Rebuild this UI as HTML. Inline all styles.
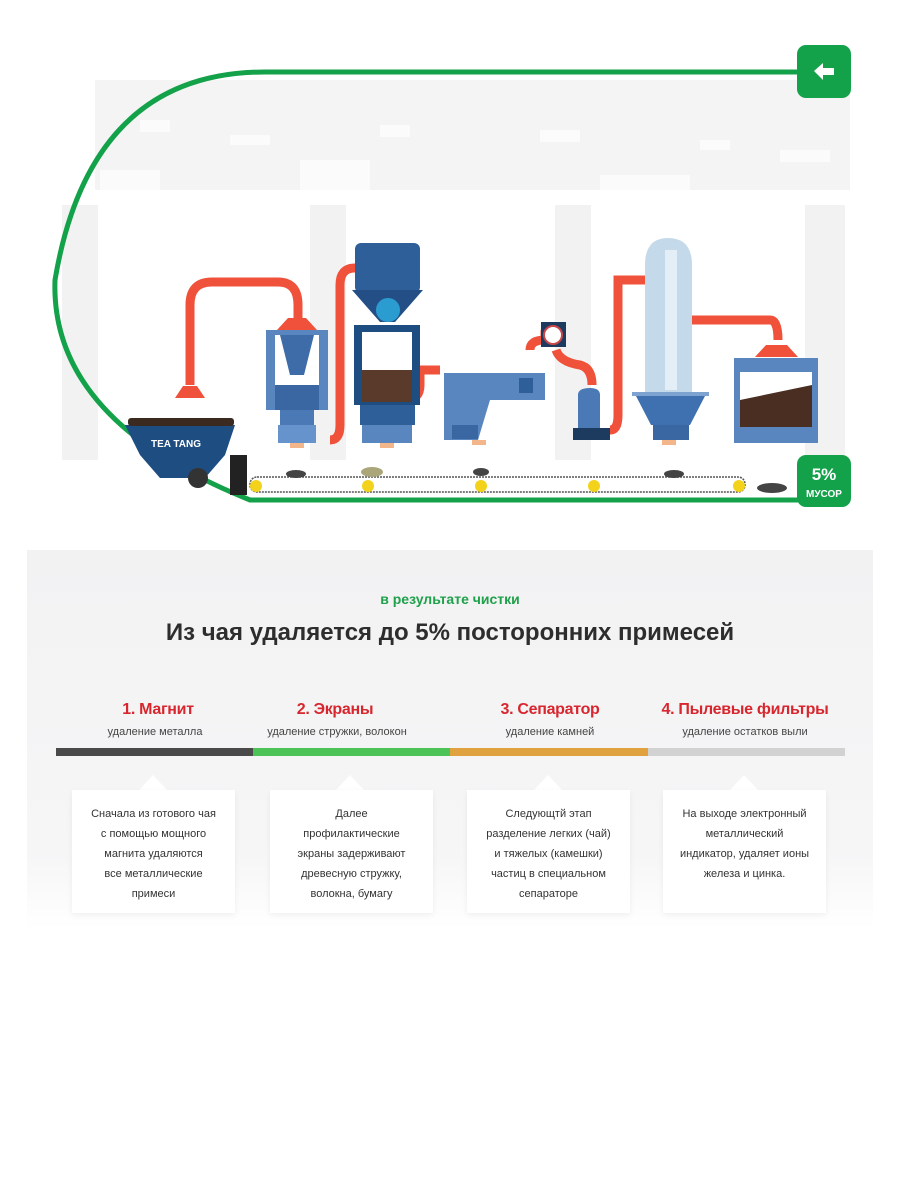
<!DOCTYPE html>
<html><head><meta charset="utf-8"><style>
html,body{margin:0;padding:0;background:#fff;width:900px;height:1200px;overflow:hidden;font-family:"Liberation Sans","DejaVu Sans",sans-serif}
.abs{position:absolute}
.h{position:absolute;width:200px;text-align:center;color:#d7262e;font-size:16px;font-weight:bold;letter-spacing:-0.3px}
.s{position:absolute;width:200px;text-align:center;color:#444;font-size:11px}
.card{position:absolute;width:163px;height:123px;top:790px;background:#fff;box-shadow:0 2px 6px rgba(0,0,0,0.06);font-size:11px;line-height:20px;color:#333;text-align:center;box-sizing:border-box;padding-top:14px}
.tri{position:absolute;top:775px;width:0;height:0;border-left:14px solid transparent;border-right:14px solid transparent;border-bottom:15px solid #fff}
</style></head><body>
<svg class="abs" style="left:0;top:0" width="900" height="540" viewBox="0 0 900 540">
<rect x="95" y="80" width="755" height="110" fill="#f4f4f4"/>
<g fill="#fbfbfb">
<rect x="140" y="120" width="30" height="12"/><rect x="230" y="135" width="40" height="10"/><rect x="380" y="125" width="30" height="12"/><rect x="540" y="130" width="40" height="12"/><rect x="700" y="140" width="30" height="10"/><rect x="780" y="150" width="50" height="12"/><rect x="100" y="170" width="60" height="20"/><rect x="300" y="160" width="70" height="30"/><rect x="600" y="175" width="90" height="15"/>
</g>
<g fill="#f2f2f2">
<rect x="62" y="205" width="36" height="255"/><rect x="310" y="205" width="36" height="255"/><rect x="555" y="205" width="36" height="255"/><rect x="805" y="205" width="40" height="250"/>
</g>
<path d="M800 72 H265 Q90 72 55 280 Q50 420 250 500 H850" fill="none" stroke="#13a24a" stroke-width="5"/>
<rect x="797" y="45" width="54" height="53" rx="9" fill="#13a24a"/>
<path d="M814 71 L823 63 V68 H834 V75 H823 V80 Z" fill="#fff"/>
<g fill="none" stroke="#f0513a" stroke-width="9">
<path d="M190 385 V305 Q190 282 212 282 H278 Q298 282 298 305 V320"/>
<path d="M330 440 Q340 440 340 425 V285 Q340 268 355 268"/>
<path d="M405 400 Q420 400 420 385 V370 H440"/>
<path d="M530 350 Q530 340 545 340 V330"/>
<path d="M556 350 Q560 362 580 365 Q592 368 592 385"/>
<path d="M610 430 Q618 430 618 415 V280 H645"/>
<path d="M692 320 H770 Q778 320 778 340"/>
</g>
<path d="M175 398 L205 398 L197 386 L183 386 Z" fill="#f0513a"/>
<path d="M277 330 L317 330 L306 318 L288 318 Z" fill="#f0513a"/>
<path d="M755 357 L798 357 L787 345 L766 345 Z" fill="#f0513a"/>
<rect x="266" y="330" width="62" height="80" fill="#5a86c0"/>
<rect x="275" y="335" width="44" height="50" fill="#fff"/>
<path d="M280 335 H314 L304 375 H290 Z" fill="#3d6ca8"/>
<rect x="275" y="385" width="44" height="25" fill="#3a67a2"/>
<rect x="280" y="410" width="34" height="15" fill="#4a79b6"/>
<rect x="278" y="425" width="38" height="18" fill="#6793cd"/>
<rect x="290" y="443" width="14" height="5" fill="#f3b58a"/>
<rect x="355" y="243" width="65" height="50" rx="6" fill="#2f5f98"/>
<path d="M352 290 H423 L395 322 H380 Z" fill="#244f86"/>
<circle cx="388" cy="310" r="12" fill="#2b9ccf"/>
<rect x="354" y="325" width="66" height="80" fill="#1e4d82"/>
<rect x="362" y="332" width="50" height="70" fill="#fff"/>
<rect x="362" y="370" width="50" height="32" fill="#5a3a2a"/>
<rect x="360" y="405" width="55" height="20" fill="#2f5f98"/>
<rect x="362" y="425" width="50" height="18" fill="#5a86c0"/>
<rect x="380" y="443" width="14" height="5" fill="#f3b58a"/>
<path d="M444 373 H545 V400 H490 L478 440 H444 Z" fill="#5a86c0"/>
<rect x="452" y="425" width="26" height="14" fill="#3a67a2"/>
<rect x="519" y="378" width="14" height="15" fill="#2f5f98"/>
<rect x="472" y="440" width="14" height="5" fill="#f3b58a"/>
<rect x="541" y="322" width="25" height="25" fill="#1d3a5f"/>
<circle cx="553" cy="335" r="9" fill="#fff" stroke="#c8474a" stroke-width="2"/>
<path d="M578 395 Q578 388 590 388 Q600 388 600 395 V428 H578 Z" fill="#4a79b6"/>
<rect x="573" y="428" width="37" height="12" fill="#1d3a5f"/>
<path d="M645 265 Q645 238 668 238 Q692 238 692 265 V393 H645 Z" fill="#c4daea"/>
<rect x="665" y="250" width="12" height="140" fill="#e3eef6"/>
<rect x="632" y="392" width="77" height="4" fill="#7fa3d0"/>
<path d="M636 396 H705 L690 425 H651 Z" fill="#3f70b0"/>
<rect x="653" y="425" width="36" height="15" fill="#3a67a2"/>
<rect x="662" y="440" width="14" height="5" fill="#f3b58a"/>
<rect x="734" y="358" width="84" height="85" fill="#5a86c0"/>
<rect x="740" y="372" width="72" height="55" fill="#fff"/>
<path d="M740 400 L812 385 V427 H740 Z" fill="#4a2e22"/>
<path d="M125 425 H235 L225 455 L205 478 H160 L140 455 Z" fill="#1e4d82"/>
<rect x="128" y="418" width="106" height="8" rx="3" fill="#3a2a20"/>
<text x="176" y="447" text-anchor="middle" font-size="10" font-weight="bold" fill="#fff" font-family="Liberation Sans">TEA TANG</text>
<circle cx="198" cy="478" r="10" fill="#333"/>
<rect x="230" y="455" width="17" height="40" fill="#222"/>
<rect x="250" y="477" width="495" height="15" rx="7" fill="#fff" stroke="#555" stroke-width="1.5" stroke-dasharray="2 1"/>
<g fill="#f2d21a"><circle cx="256" cy="486" r="6"/><circle cx="368" cy="486" r="6"/><circle cx="481" cy="486" r="6"/><circle cx="594" cy="486" r="6"/><circle cx="739" cy="486" r="6"/></g>
<g fill="#444"><ellipse cx="296" cy="474" rx="10" ry="4"/><ellipse cx="481" cy="472" rx="8" ry="4"/><ellipse cx="674" cy="474" rx="10" ry="4"/><ellipse cx="772" cy="488" rx="15" ry="5"/></g>
<ellipse cx="372" cy="472" rx="11" ry="5" fill="#aaa67a"/>
<rect x="797" y="455" width="54" height="52" rx="9" fill="#13a24a"/>
<text x="824" y="480" text-anchor="middle" font-size="17" font-weight="bold" fill="#fff" font-family="Liberation Sans">5%</text>
<text x="824" y="497" text-anchor="middle" font-size="10" font-weight="bold" fill="#fff" font-family="Liberation Sans">МУСОР</text>
</svg>

<div class="abs" style="left:27px;top:550px;width:846px;height:380px;background:linear-gradient(#f2f2f3,#f6f6f7 80%,#fff)"></div>
<div class="abs" style="left:0;top:591px;width:900px;text-align:center;color:#1fa04a;font-size:14px;font-weight:bold">в результате чистки</div>
<div class="abs" style="left:0;top:619px;width:900px;text-align:center;color:#2d2d2d;font-size:24px;font-weight:bold">Из чая удаляется до 5% посторонних примесей</div>

<div class="h" style="left:58px;top:701px">1. Магнит</div>
<div class="h" style="left:235px;top:701px">2. Экраны</div>
<div class="h" style="left:450px;top:701px">3. Сепаратор</div>
<div class="h" style="left:645px;top:701px">4. Пылевые фильтры</div>
<div class="s" style="left:55px;top:726px">удаление металла</div>
<div class="s" style="left:237px;top:726px">удаление стружки, волокон</div>
<div class="s" style="left:450px;top:726px">удаление камней</div>
<div class="s" style="left:645px;top:726px">удаление остатков выли</div>

<div class="abs" style="left:56px;top:748px;width:197px;height:8px;background:#4a4a4a"></div>
<div class="abs" style="left:253px;top:748px;width:197px;height:8px;background:#4cc356"></div>
<div class="abs" style="left:450px;top:748px;width:198px;height:8px;background:#e0a23e"></div>
<div class="abs" style="left:648px;top:748px;width:197px;height:8px;background:#d2d2d2"></div>

<div class="tri" style="left:139px"></div>
<div class="tri" style="left:336px"></div>
<div class="tri" style="left:534px"></div>
<div class="tri" style="left:730px"></div>
<div class="card" style="left:72px">Сначала из готового чая<br>с помощью мощного<br>магнита удаляются<br>все металлические<br>примеси</div>
<div class="card" style="left:270px">Далее<br>профилактические<br>экраны задерживают<br>древесную стружку,<br>волокна, бумагу</div>
<div class="card" style="left:467px">Следующтй этап<br>разделение легких (чай)<br>и тяжелых (камешки)<br>частиц в специальном<br>сепараторе</div>
<div class="card" style="left:663px">На выходе электронный<br>металлический<br>индикатор, удаляет ионы<br>железа и цинка.</div>
</body></html>
